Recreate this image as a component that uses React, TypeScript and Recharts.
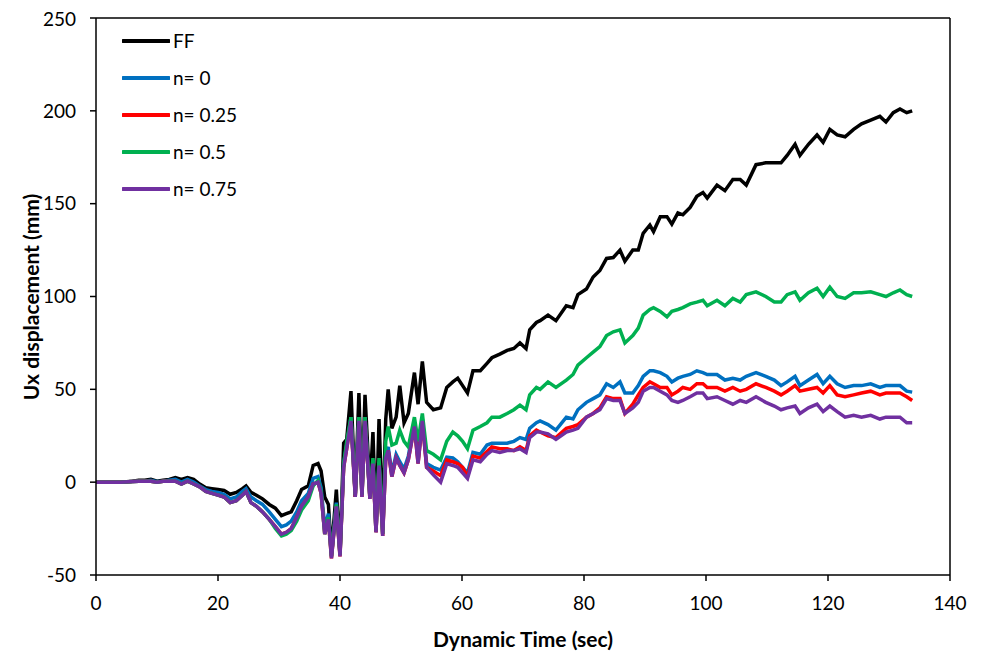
import React from "react";
import {
  LineChart,
  Line,
  XAxis,
  YAxis,
  ReferenceLine,
} from "recharts";

// time (sec)
const time = [
  0, 2, 4, 6, 7, 8, 9, 10, 11, 12,
  13, 14, 15, 16, 17, 18, 19, 20, 21, 22,
  23, 24, 24.6, 25.4, 26.3, 27.3, 28.4, 29.4, 30.4, 31.2,
  32, 32.9, 33.7, 34.8, 35.6, 36.4, 36.9, 37.5, 38.1, 38.6,
  39.4, 40, 40.6, 41.1, 41.8, 42.5, 43.1, 43.6, 44.1, 44.9,
  45.4, 45.9, 46.4, 47, 47.5, 47.9, 48.5, 49.2, 49.8, 50.5,
  51.2, 52.2, 52.8, 53.5, 54.2, 55.3, 56.5, 57.5, 58.5, 59.3,
  60.1, 60.9, 61.8, 63, 64.1, 64.9, 66.2, 67.4, 68.5, 69.5,
  70.5, 71.1, 72.2, 72.8, 74.1, 75.4, 77.1, 78.2, 79, 80.4,
  81.5, 82.6, 83.7, 84.8, 85.9, 86.7, 88, 88.9, 89.7, 90.8,
  91.4, 92.5, 93.6, 94.4, 95.4, 96.2, 97.4, 98.5, 99.5, 100.2,
  101.8, 103.1, 104.4, 105.6, 106.6, 108.2, 109.8, 111.2, 112.3, 113.3,
  114.6, 115.4, 116.8, 118.2, 119.2, 120.3, 121.5, 122.8, 124.2, 125.5,
  127, 128.5, 129.5, 130.7, 131.8, 132.9, 133.8,
];

// Ux displacement (mm)
const ff = [
  0, 0, 0, 0.5, 1, 1, 1.5, 0.5, 1, 1.5,
  2.5, 1.5, 2.5, 1.5, -1, -3, -3.5, -4, -4.5, -6.5,
  -5.5, -3.5, -2, -5.5, -7, -9, -12, -14, -18, -17,
  -16, -10, -4, -2, 9, 10, 6, -8, -12, -38,
  -4, -38, 21, 23, 49, -8, 48, -6, 47, -4,
  27, -24, 34, -22, 34, 50, 29, 35, 52, 32,
  37, 59, 42, 65, 43, 39, 40, 51, 54, 56,
  52, 48, 60, 60, 64, 67, 69, 71, 72, 75,
  72, 82, 86, 87, 90, 87, 95, 94, 101, 104,
  110.5, 114, 120.5, 121, 125, 119, 125, 125, 134, 138.5,
  135, 143, 143, 139, 145, 144, 148, 154, 156, 153,
  160, 157, 163, 163, 160, 171, 172, 172, 172, 176,
  182, 176, 182, 187, 183, 190, 187, 186, 190, 193,
  195, 197, 194, 199, 201, 199, 200,
];

const n0 = [
  0, 0, 0, 0.3, 0.5, 0.5, 1, 0.3, 0.5, 1,
  1.5, 0, 1.5, 0, -2, -4, -5, -5.5, -6.5, -9,
  -8, -5, -3.5, -8, -10, -12, -16, -20, -24, -23,
  -21, -16, -10, -6, 2, 3, -3, -24, -17, -40,
  -11, -39, 10, 20, 35, -7, 35, -7, 35, -8,
  12, -27, 11, -28, 15, 19, 5, 15, 11, 7,
  14, 32, 12, 34, 10, 8, 6.5, 13.5, 13, 11,
  8, 5, 16, 15, 20, 21, 21, 21, 22, 24,
  23, 29, 32, 33, 31, 28, 35, 34, 39, 43,
  45, 47, 53, 51, 54, 48, 48, 52, 57, 60,
  60, 59, 57, 54, 56, 57, 58, 60, 59, 58,
  58, 55, 56, 55, 57, 59, 57, 55, 52, 54,
  57, 52, 55, 58, 53, 57, 53, 51, 52, 52,
  53, 51, 52, 52, 52, 49, 48.5,
];

const n025 = [
  0, 0, 0, 0.3, 0.5, 0.5, 0.5, 0, 0.5, 0.5,
  0.5, -1, 0.5, -1, -2.5, -5, -6, -7, -8, -11,
  -10, -7, -5, -11, -13, -16, -20, -24, -28, -27,
  -25, -19, -13, -8, -1, 0, -6, -28, -20, -41,
  -13, -40, 8, 18, 33, -8, 33, -8, 33, -9,
  10, -27, 9, -29, 13, 17, 3, 13, 9, 5,
  12, 30, 10, 33, 8, 6, 3.5, 12, 11, 10,
  8, 3, 14, 13, 16.5, 19, 18, 18, 17, 19,
  17, 25, 28, 27, 25, 24, 29, 30, 31, 35,
  37, 40, 46, 45, 45, 37, 42, 47, 51, 54,
  53, 51, 51, 47, 49, 51, 50, 53, 53, 51,
  51, 49, 51, 49, 50, 53, 51, 49, 47, 49,
  52, 49, 50, 51, 48, 52, 47, 46, 47, 48,
  49, 47, 48, 48, 48, 46, 44,
];

const n05 = [
  0, 0, 0, 0.3, 0.5, 0.5, 0.5, 0, 0.5, 0.5,
  0.5, -1, 0.5, -1, -2.5, -5, -6, -7, -8, -11,
  -10, -7, -5, -11, -13, -16, -20, -25, -29, -28,
  -26, -21, -15, -10, -2, 1, -5, -28, -19, -40,
  -12, -39, 10, 22, 35, -7, 35, -7, 35, -8,
  13, -26, 13, -28, 22, 30, 20, 21, 28, 22,
  19, 35, 22, 37, 17, 15, 12, 22, 27, 25,
  22, 18, 28, 30, 32, 35, 35, 37, 39, 41.5,
  39, 47, 51, 50, 54, 51, 55, 58, 63, 67,
  70, 73, 79, 81, 82, 75, 79, 83, 90, 93,
  94, 92, 89, 92, 93, 94, 96, 97, 98, 95,
  98, 95, 99, 97, 101, 102.5, 100, 97, 97, 101,
  102.5, 98, 102, 104.5, 100, 105, 100, 99, 102, 102,
  102.5, 101, 100, 102, 103.5, 101, 100,
];

const n075 = [
  0, 0, 0, 0.3, 0.5, 0.5, 0.5, 0, 0.5, 0.5,
  0.5, -1, 0.5, -1, -2.5, -5, -6, -7, -8, -11,
  -10, -7, -5, -11, -13, -16, -20, -24, -28, -27,
  -25, -19, -13, -8, -1, 0, -6, -28, -20, -41,
  -13, -40, 8, 18, 33, -8, 33, -8, 33, -9,
  10, -27, 9, -29, 13, 17, 3, 13, 9, 5,
  12, 30, 10, 33, 8, 4, 0, 10, 9, 8,
  5, 2, 12, 11, 15, 17, 16, 17, 17, 18,
  16, 24, 27, 27, 26, 23, 27, 28, 29, 35,
  37, 39, 45, 44, 44, 37, 40, 43, 49, 51,
  51, 49, 47, 44, 43, 44, 46, 48, 48, 45,
  46, 44, 42, 44, 43, 46, 43, 41, 39, 40,
  41, 37, 40, 42, 38, 41, 38, 35, 36, 35,
  36, 34, 35, 35, 35, 32, 32,
];

const xTicks = [0, 20, 40, 60, 80, 100, 120, 140];
const yTicks = [-50, 0, 50, 100, 150, 200, 250];

const series = [
  { key: "ff", name: "FF", color: "#000000" },
  { key: "n0", name: "n= 0", color: "#0070C0" },
  { key: "n025", name: "n= 0.25", color: "#FF0000" },
  { key: "n05", name: "n= 0.5", color: "#00B050" },
  { key: "n075", name: "n= 0.75", color: "#7030A0" },
];

const data = time.map((t, i) => ({
  t,
  ff: ff[i],
  n0: n0[i],
  n025: n025[i],
  n05: n05[i],
  n075: n075[i],
}));

const font = "Lato, 'Noto Sans', sans-serif";
const tickStyle = { fill: "#000", fontSize: 19, fontFamily: font };

const YTitle = () => (
  <text
    x={22}
    y={289}
    transform="rotate(-90 22 289)"
    textAnchor="middle"
    dominantBaseline="central"
    fontFamily={font}
    fontWeight={700}
    fontSize={21}
    fill="#000"
  >
    Ux displacement (mm)
  </text>
);

const XTitle = () => (
  <text
    x={515}
    y={630}
    textAnchor="middle"
    dominantBaseline="central"
    fontFamily={font}
    fontWeight={700}
    fontSize={21}
    fill="#000"
  >
    Dynamic Time (sec)
  </text>
);

export default function App() {
  return (
    <div style={{ position: "relative", width: 970, height: 648 }}>
      <LineChart
        width={970}
        height={648}
        data={data}
        margin={{ top: 10, right: 28, left: 0, bottom: 0 }}
      >
        <XAxis
          dataKey="t"
          type="number"
          domain={[0, 140]}
          ticks={xTicks}
          height={81}
          tick={tickStyle}
          tickSize={6}
          tickMargin={16}
          axisLine={{ stroke: "#000", strokeWidth: 1.5 }}
          tickLine={{ stroke: "#000", strokeWidth: 1.5 }}
          label={<XTitle />}
        />
        <YAxis
          type="number"
          domain={[-50, 250]}
          ticks={yTicks}
          width={88}
          tick={tickStyle}
          tickSize={6}
          tickMargin={14}
          axisLine={{ stroke: "#000", strokeWidth: 1.5 }}
          tickLine={{ stroke: "#000", strokeWidth: 1.5 }}
          label={<YTitle />}
        />
        <ReferenceLine y={250} stroke="#000" strokeWidth={1.5} />
        <ReferenceLine x={140} stroke="#000" strokeWidth={1.5} />
        {series.map((s) => (
          <Line
            key={s.key}
            dataKey={s.key}
            name={s.name}
            type="linear"
            stroke={s.color}
            strokeWidth={3.5}
            dot={false}
            isAnimationActive={false}
          />
        ))}
      </LineChart>
      <div
        style={{
          position: "absolute",
          left: 114,
          top: 14,
          fontFamily: font,
          fontSize: 19,
          color: "#000",
        }}
      >
        {series.map((s) => (
          <div
            key={s.key}
            style={{ display: "flex", alignItems: "center", height: 37 }}
          >
            <svg width={48} height={8} style={{ marginRight: 3 }}>
              <line x1={1} y1={4} x2={47} y2={4} stroke={s.color} strokeWidth={4} strokeLinecap="round" />
            </svg>
            <span>{s.name}</span>
          </div>
        ))}
      </div>
    </div>
  );
}
